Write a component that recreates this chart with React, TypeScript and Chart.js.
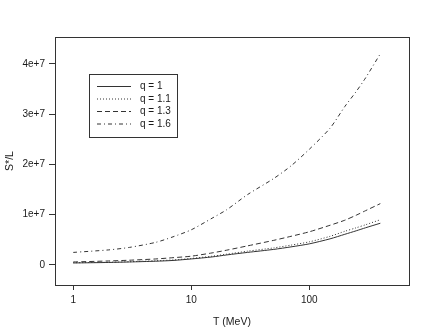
import React, { useEffect, useRef } from "react";
import { Chart, registerables } from "chart.js";

Chart.register(...registerables);

const temperatures = [1, 2, 3, 5, 7, 10, 15, 20, 30, 50, 70, 100, 150, 200, 250, 300, 400];
const q1 = [0.4e6, 0.5e6, 0.6e6, 0.75e6, 0.9e6, 1.2e6, 1.6e6, 2.0e6, 2.5e6, 3.1e6, 3.6e6, 4.2e6, 5.2e6, 6.1e6, 6.8e6, 7.4e6, 8.3e6];
const q11 = [0.45e6, 0.55e6, 0.65e6, 0.85e6, 1.0e6, 1.3e6, 1.75e6, 2.15e6, 2.75e6, 3.4e6, 3.95e6, 4.6e6, 5.7e6, 6.7e6, 7.4e6, 8.0e6, 9.0e6];
const q13 = [0.6e6, 0.8e6, 0.95e6, 1.2e6, 1.45e6, 1.75e6, 2.4e6, 2.95e6, 3.8e6, 4.9e6, 5.7e6, 6.6e6, 7.9e6, 8.9e6, 9.9e6, 10.8e6, 12.2e6];
const q16 = [2.5e6, 3.0e6, 3.5e6, 4.5e6, 5.6e6, 7.0e6, 9.3e6, 1.1e7, 1.4e7, 1.72e7, 1.97e7, 2.3e7, 2.72e7, 3.15e7, 3.45e7, 3.72e7, 4.2e7];

const seriesLabels = ["q = 1", "q = 1.1", "q = 1.3", "q = 1.6"];
const seriesValues = [q1, q11, q13, q16];
const dashes: number[][] = [[], [1, 2], [5, 3], [4, 3, 1, 3]];

const xTicks = [1, 10, 100];
const yTicks = [0, 1e7, 2e7, 3e7, 4e7];
const yTickLabels = ["0", "1e+7", "2e+7", "3e+7", "4e+7"];

const INK = "#333333";
const TEXT = "#1a1a1a";
const FONT = "Liberation Sans, Arial, sans-serif";

const decorPlugin = {
  id: "decor",
  afterDraw(chart: any) {
    const ctx = chart.ctx;
    const a = chart.chartArea;
    ctx.save();
    ctx.strokeStyle = INK;
    ctx.lineWidth = 1;
    ctx.setLineDash([]);
    ctx.strokeRect(Math.round(a.left) + 0.5, Math.round(a.top) + 0.5, Math.round(a.right - a.left), Math.round(a.bottom - a.top));

    // axis titles
    ctx.fillStyle = TEXT;
    ctx.font = `10.5px ${FONT}`;
    ctx.textAlign = "center";
    ctx.textBaseline = "middle";
    ctx.fillText("T (MeV)", (a.left + a.right) / 2, 322);
    ctx.save();
    ctx.translate(10, (a.top + a.bottom) / 2);
    ctx.rotate(-Math.PI / 2);
    ctx.fillText("S*/L", 0, 0);
    ctx.restore();

    // legend
    ctx.strokeRect(89.5, 74.5, 88, 63);
    const rows = [86, 98.5, 111, 123.5];
    ctx.font = `10px ${FONT}`;
    ctx.textAlign = "left";
    seriesLabels.forEach((lab, i) => {
      ctx.beginPath();
      ctx.setLineDash(dashes[i]);
      ctx.moveTo(97, rows[i] + 0.5);
      ctx.lineTo(131, rows[i] + 0.5);
      ctx.stroke();
      ctx.setLineDash([]);
      ctx.fillText(lab, 140, rows[i] + 0.5);
    });
    ctx.restore();
  },
};

export default function App() {
  const ref = useRef<HTMLCanvasElement | null>(null);
  useEffect(() => {
    if (!ref.current) return;
    const chart = new Chart(ref.current, {
      type: "line",
      data: {
        datasets: seriesValues.map((vals, i) => ({
          label: seriesLabels[i],
          data: temperatures.map((t, j) => ({ x: t, y: vals[j] })),
          borderColor: INK,
          borderWidth: 1,
          borderDash: dashes[i],
          pointRadius: 0,
          tension: 0.25,
          fill: false,
        })),
      },
      options: {
        animation: false,
        responsive: false,
        maintainAspectRatio: false,
        layout: { padding: { top: 37, right: 34, left: 0, bottom: 0 } },
        plugins: { legend: { display: false }, tooltip: { enabled: false } },
        scales: {
          x: {
            type: "logarithmic",
            min: 0.7,
            max: 700,
            afterBuildTicks: (axis: any) => {
              axis.ticks = xTicks.map((v) => ({ value: v }));
            },
            afterFit: (axis: any) => {
              axis.height = 45;
            },
            border: { display: false },
            grid: { drawOnChartArea: false, drawTicks: true, tickLength: 5, color: INK },
            ticks: {
              autoSkip: false,
              maxRotation: 0,
              padding: 4,
              color: TEXT,
              font: { family: FONT, size: 10 },
              callback: (v: any) => String(v),
            },
          },
          y: {
            type: "linear",
            min: -3.98e6,
            max: 4.533e7,
            afterBuildTicks: (axis: any) => {
              axis.ticks = yTicks.map((v) => ({ value: v }));
            },
            afterFit: (axis: any) => {
              axis.width = 55;
            },
            border: { display: false },
            grid: { drawOnChartArea: false, drawTicks: true, tickLength: 6, color: INK },
            ticks: {
              autoSkip: false,
              padding: 4,
              color: TEXT,
              font: { family: FONT, size: 10 },
              callback: (v: any) => {
                const idx = yTicks.indexOf(Number(v));
                return idx >= 0 ? yTickLabels[idx] : "";
              },
            },
          },
        },
      },
      plugins: [decorPlugin],
    });
    return () => chart.destroy();
  }, []);
  return (
    <div style={{ position: "absolute", left: 0, top: 0, width: 443, height: 330, background: "#fff" }}>
      <canvas ref={ref} width={443} height={330} style={{ width: 443, height: 330 }} />
    </div>
  );
}
